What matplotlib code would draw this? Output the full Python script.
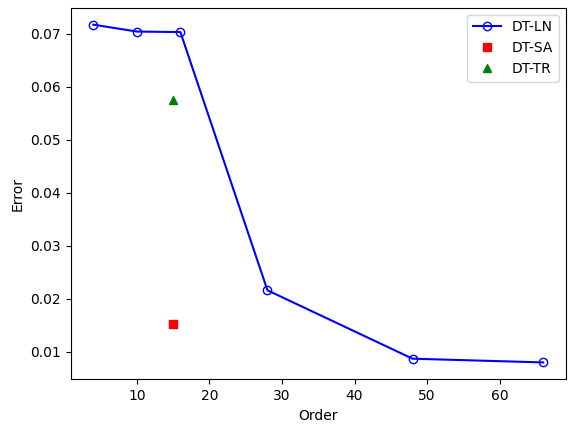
import matplotlib
matplotlib.use("Agg")
import matplotlib.pyplot as plt

# données
order_ln = [4, 10, 16, 28, 48, 66]
error_ln = [0.0717, 0.0704, 0.0703, 0.0216, 0.0087, 0.0080]
order_sa = [15]
error_sa = [0.0152]
order_tr = [15]
error_tr = [0.0574]

fig, ax = plt.subplots(figsize=(5.76, 4.32), dpi=100)
ax.plot(order_ln, error_ln, 'b-o', markerfacecolor='none', label='DT-LN')
ax.plot(order_sa, error_sa, 'rs', label='DT-SA')
ax.plot(order_tr, error_tr, 'g^', label='DT-TR')
ax.set_xlabel('Order')
ax.set_ylabel('Error')
ax.legend()
fig.subplots_adjust(left=0.123, right=0.982, top=0.982, bottom=0.122)
fig.savefig('out.png')
